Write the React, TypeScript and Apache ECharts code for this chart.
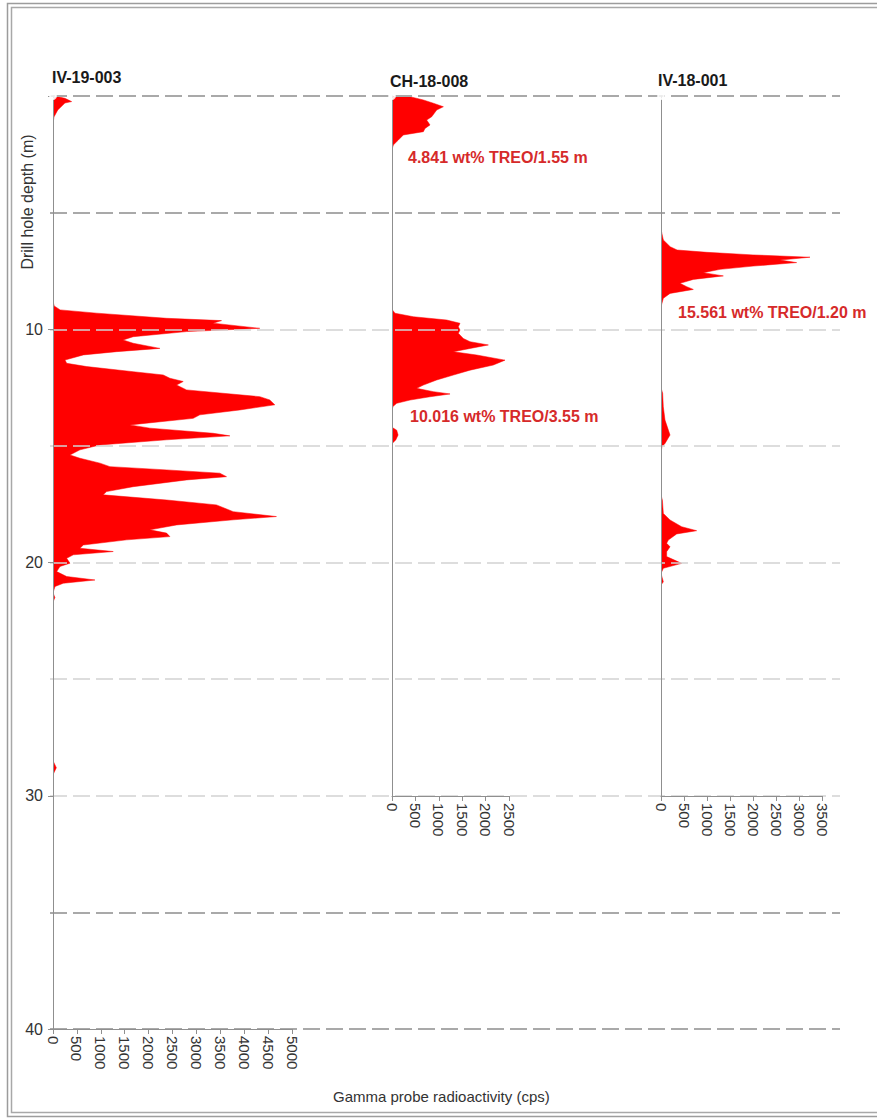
import React, { useEffect, useRef } from "react";
import * as echarts from "echarts";

// ---------- data ----------
const HOLES = ["IV-19-003", "CH-18-008", "IV-18-001"];
const X_MAX = [5000, 2500, 3500];
const DEPTH_MAX = [40, 30, 30];
const GRID_DEPTHS = [0, 5, 10, 15, 20, 25, 30, 35, 40];
const GRID_STRONG = [0, 5, 35, 40];
const ANNOTATIONS = ["4.841 wt% TREO/1.55 m", "10.016 wt% TREO/3.55 m", "15.561 wt% TREO/1.20 m"];
const Y_NAME = "Drill hole depth (m)";
const X_NAME = "Gamma probe radioactivity (cps)";

// [depth (m), gamma (cps)]
const IV19_PROFILE: [number, number][] = [
  [0, 30], [0.1, 250], [0.24, 390], [0.3, 250], [0.6, 100], [0.9, 20], [1.2, 0], [8.8, 0],
  [9.0, 25], [9.17, 150], [9.31, 913], [9.53, 2376], [9.63, 3526], [9.74, 3350], [9.96, 4326],
  [10.1, 2794], [10.32, 1677], [10.46, 1467], [10.6, 1677], [10.82, 2236], [10.96, 1331], [11.1, 635],
  [11.32, 251], [11.46, 286], [11.6, 704], [11.82, 1677], [11.96, 2306], [12.1, 2445], [12.24, 2724],
  [12.39, 2585], [12.6, 2794], [12.89, 4326], [13.03, 4535], [13.24, 4640], [13.46, 3908], [13.67, 3072],
  [13.82, 2933], [14.1, 1609], [14.24, 2027], [14.46, 3350], [14.57, 3700], [14.74, 2376], [14.96, 982],
  [15.17, 564], [15.39, 355], [15.53, 564], [15.74, 982], [15.89, 1191], [16.03, 2376], [16.17, 3490],
  [16.32, 3630], [16.46, 2794], [16.75, 1677], [16.96, 1122], [17.1, 1050], [17.32, 2376], [17.53, 3420],
  [17.82, 3770], [18.03, 4675], [18.17, 3770], [18.39, 2585], [18.6, 2027], [18.74, 2376], [18.89, 2445],
  [19.03, 1540], [19.25, 635], [19.39, 564], [19.53, 1260], [19.67, 425], [19.82, 286], [20.03, 355],
  [20.17, 146], [20.39, 77], [20.6, 286], [20.75, 878], [20.89, 216], [21.03, 42], [21.3, 0], [21.5, 40],
  [21.7, 0], [28.5, 0], [28.8, 70], [29.1, 0], [40, 0],
];

const CH18_PROFILE: [number, number][] = [
  [0, 0], [0.03, 385], [0.17, 670], [0.31, 884], [0.46, 1098], [0.6, 955], [0.89, 848], [1.03, 741],
  [1.24, 812], [1.39, 705], [1.53, 670], [1.67, 242], [1.89, 135], [2.1, 28], [2.3, 0], [9.0, 0],
  [9.17, 10], [9.31, 64], [9.46, 456], [9.6, 1168], [9.74, 1453], [9.89, 1417], [10.03, 1453], [10.17, 1417],
  [10.39, 1524], [10.53, 1667], [10.67, 2059], [10.82, 1667], [10.96, 1310], [11.1, 1809], [11.32, 2415],
  [11.53, 2165], [11.75, 1667], [11.96, 1310], [12.17, 955], [12.39, 670], [12.53, 527], [12.67, 884],
  [12.77, 1240], [12.89, 812], [13.03, 385], [13.17, 100], [13.31, 20], [13.5, 0], [14.2, 0], [14.32, 100],
  [14.53, 130], [14.74, 80], [14.9, 0], [30, 0],
];

const IV18_PROFILE: [number, number][] = [
  [0, 0], [5.7, 0], [5.89, 20], [6.17, 51], [6.46, 200], [6.6, 350], [6.7, 1000], [6.81, 2000], [6.91, 3239],
  [7.03, 2587], [7.14, 2949], [7.29, 2003], [7.43, 1283], [7.57, 920], [7.71, 1355], [7.86, 703], [8.03, 413],
  [8.17, 558], [8.29, 703], [8.46, 196], [8.67, 51], [9.03, 0], [12.5, 0], [12.74, 36], [13.32, 50],
  [13.89, 87], [14.53, 196], [14.89, 87], [15.03, 20], [15.3, 0], [17.1, 0], [17.32, 30], [17.89, 51], [18.17, 196],
  [18.46, 449], [18.63, 775], [18.77, 341], [19.03, 159], [19.17, 123], [19.32, 196], [19.53, 123],
  [19.74, 123], [20.03, 449], [20.24, 51], [20.46, 0], [20.82, 51], [20.96, 0], [30, 0],
];

const PROFILES = [IV19_PROFILE, CH18_PROFILE, IV18_PROFILE];

// ---------- layout / style ----------
const FONT = "Liberation Sans, Arial, sans-serif";
const GRIDS = [
  { left: 53, top: 96, width: 239, height: 933 },
  { left: 392, top: 96, width: 117, height: 700 },
  { left: 661, top: 96, width: 161, height: 700 },
];
const BG_GRID = { left: 50, top: 96, width: 790, height: 933 };
const TITLE_POS = [
  [52, 77],
  [390, 81],
  [658, 80],
];
const ANNOT_POS = [
  [408, 157],
  [410, 416],
  [678, 312],
];
const RED = "#ff0000";
const ANNOT_RED = "#d62a2a";
const AXIS_GREY = "#8f8f8f";

function fillSeries(idx: number, profile: [number, number][]) {
  return {
    type: "custom",
    xAxisIndex: idx,
    yAxisIndex: idx,
    z: 3,
    silent: true,
    clip: true,
    data: profile.map((p) => [p[1], p[0]]),
    encode: { x: 0, y: 1 },
    renderItem: (params: any, api: any) => {
      if (params.dataIndex !== 0) return null;
      const pts: number[][] = [api.coord([0, profile[0][0]])];
      for (const p of profile) pts.push(api.coord([p[1], p[0]]));
      pts.push(api.coord([0, profile[profile.length - 1][0]]));
      return {
        type: "polygon",
        shape: { points: pts },
        style: { fill: RED, stroke: RED, lineWidth: 0.5 },
      };
    },
  };
}

export default function App() {
  const ref = useRef<HTMLDivElement>(null);

  useEffect(() => {
    if (!ref.current) return;
    const chart = echarts.init(ref.current, undefined, { renderer: "svg" });

    const xAxes: any[] = GRIDS.map((_, i) => ({
      gridIndex: i,
      type: "value",
      min: 0,
      max: X_MAX[i],
      interval: 500,
      position: "bottom",
      z: 5,
      axisLine: { show: true, onZero: false, lineStyle: { color: AXIS_GREY, width: 1 } },
      axisTick: { show: true, length: 5, lineStyle: { color: AXIS_GREY } },
      axisLabel: {
        rotate: -90,
        fontSize: 15,
        color: "#333",
        fontFamily: FONT,
        margin: 7,
        formatter: (v: number) => String(v),
      },
      splitLine: { show: false },
    }));
    xAxes.push({ gridIndex: 3, type: "value", min: 0, max: 1, show: false });

    const yAxes: any[] = GRIDS.map((_, i) => ({
      gridIndex: i,
      type: "value",
      inverse: true,
      min: 0,
      max: DEPTH_MAX[i],
      interval: 10,
      z: 5,
      axisLine: { show: true, onZero: false, lineStyle: { color: AXIS_GREY, width: 1 } },
      axisTick: { show: i === 0, length: 5, lineStyle: { color: AXIS_GREY } },
      axisLabel: {
        show: i === 0,
        fontSize: 16,
        color: "#333",
        fontFamily: FONT,
        margin: 10,
        formatter: (v: number) => (v === 0 ? "" : String(v)),
      },
      splitLine: { show: false },
    }));
    yAxes.push({ gridIndex: 3, type: "value", inverse: true, min: 0, max: 40, show: false });

    const series: any[] = [
      {
        type: "line",
        xAxisIndex: 3,
        yAxisIndex: 3,
        z: 1,
        silent: true,
        data: [[0.5, 0]],
        showSymbol: false,
        lineStyle: { opacity: 0 },
        markLine: {
          silent: true,
          symbol: "none",
          label: { show: false },
          data: GRID_DEPTHS.map((d) => {
            const strong = GRID_STRONG.includes(d);
            return {
              yAxis: d,
              lineStyle: {
                type: [17, 6],
                color: strong ? "#a9a9a9" : "#d2d2d2",
                width: strong ? 2 : 1.5,
              },
            };
          }),
        },
      },
      ...PROFILES.map((p, i) => fillSeries(i, p)),
      ...PROFILES.map((p, i) => ({
        type: "scatter",
        xAxisIndex: i,
        yAxisIndex: i,
        z: 6,
        silent: true,
        symbol: "emptyCircle",
        symbolSize: 6,
        itemStyle: { color: "#fff", borderColor: "#888", borderWidth: 1 },
        data: [[0, p[0][0]]],
      })),
    ];

    const graphic: any[] = [
      {
        type: "rect",
        shape: { x: 7.5, y: 3.5, width: 900, height: 1113 },
        style: { fill: "none", stroke: "#9c9c9c", lineWidth: 1.5 },
        silent: true,
      },
      {
        type: "rect",
        shape: { x: 11.5, y: 7.5, width: 900, height: 1105 },
        style: { fill: "none", stroke: "#a8a8a8", lineWidth: 1.5 },
        silent: true,
      },
      ...HOLES.map((h, i) => ({
        type: "text",
        x: TITLE_POS[i][0],
        y: TITLE_POS[i][1],
        silent: true,
        style: {
          text: h,
          fill: "#1a1a1a",
          fontSize: 16,
          fontWeight: "bold",
          fontFamily: FONT,
          textAlign: "left",
          textVerticalAlign: "middle",
        },
      })),
      ...ANNOTATIONS.map((t, i) => ({
        type: "text",
        x: ANNOT_POS[i][0],
        y: ANNOT_POS[i][1],
        z: 10,
        silent: true,
        style: {
          text: t,
          fill: ANNOT_RED,
          fontSize: 16,
          fontWeight: "bold",
          fontFamily: FONT,
          textAlign: "left",
          textVerticalAlign: "middle",
        },
      })),
      {
        type: "text",
        x: 27,
        y: 202,
        rotation: Math.PI / 2,
        silent: true,
        style: {
          text: Y_NAME,
          fill: "#333",
          fontSize: 16,
          fontFamily: FONT,
          textAlign: "center",
          textVerticalAlign: "middle",
        },
      },
      {
        type: "text",
        x: 333,
        y: 1096,
        silent: true,
        style: {
          text: X_NAME,
          fill: "#333",
          fontSize: 15,
          fontFamily: FONT,
          textAlign: "left",
          textVerticalAlign: "middle",
        },
      },
    ];

    chart.setOption({
      animation: false,
      backgroundColor: "#ffffff",
      grid: [...GRIDS, BG_GRID].map((g) => ({ ...g, containLabel: false })),
      xAxis: xAxes,
      yAxis: yAxes,
      series,
      graphic,
    });

    return () => chart.dispose();
  }, []);

  return (
    <div
      ref={ref}
      style={{ position: "absolute", left: 0, top: 0, width: 877, height: 1119, background: "#fff" }}
    />
  );
}
